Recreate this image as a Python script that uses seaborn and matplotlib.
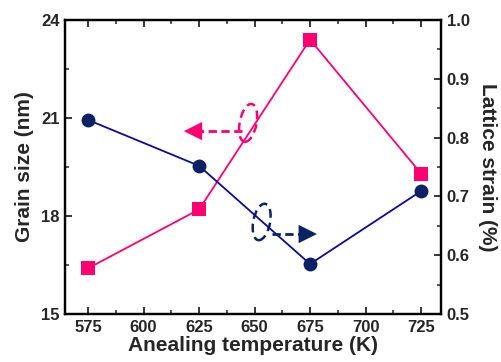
import matplotlib
matplotlib.use("Agg")
import matplotlib.pyplot as plt
from matplotlib.patches import Ellipse
from matplotlib.ticker import MultipleLocator, FormatStrFormatter
import seaborn as sns
import pandas as pd

# Annealing temperatures (K)
temperature = [575, 625, 675, 725]
# Grain size (nm), left axis
grain_size = [16.4, 18.2, 23.4, 19.3]
# Lattice strain (%), right axis
lattice_strain = [0.83, 0.752, 0.585, 0.709]

pink = "#FF0070"
navy_line = "#0A0AA0"
navy_mark = "#0C2264"

sns.set_style("ticks")
plt.rcParams["font.family"] = ["Liberation Sans", "DejaVu Sans"]
plt.rcParams["font.weight"] = "bold"
plt.rcParams["axes.labelweight"] = "bold"

df = pd.DataFrame({"T": temperature, "grain": grain_size, "strain": lattice_strain})

fig = plt.figure(figsize=(5.02, 3.62), dpi=100)
ax = fig.add_axes([0.1295, 0.1326, 0.749, 0.8122])
ax2 = ax.twinx()

sns.lineplot(data=df, x="T", y="grain", ax=ax, color=pink, marker="s",
             markersize=9.5, markeredgewidth=0, linewidth=1.3)
sns.lineplot(data=df, x="T", y="strain", ax=ax2, color=navy_line, marker="o",
             markersize=10, markerfacecolor=navy_mark, markeredgewidth=0,
             linewidth=1.3)

ax.set_xlim(564.6, 734)
ax.set_ylim(15, 24)
ax2.set_ylim(0.5, 1.0)

ax.xaxis.set_major_locator(MultipleLocator(25))
ax.xaxis.set_minor_locator(MultipleLocator(12.5))
ax.yaxis.set_major_locator(MultipleLocator(3))
ax.yaxis.set_minor_locator(MultipleLocator(1.5))
ax2.yaxis.set_major_locator(MultipleLocator(0.1))
ax2.yaxis.set_minor_locator(MultipleLocator(0.05))
ax2.yaxis.set_major_formatter(FormatStrFormatter("%.1f"))

ax.set_xlabel("Anealing temperature (K)", fontsize=15, fontweight="bold", labelpad=1)
ax.set_ylabel("Grain size (nm)", fontsize=15, fontweight="bold", labelpad=5)
ax2.set_ylabel("Lattice strain (%)", fontsize=15, fontweight="bold",
               rotation=270, labelpad=20)

for a in (ax, ax2):
    for s in a.spines.values():
        s.set_visible(True)
        s.set_linewidth(1.6)
        s.set_color("black")
ax.tick_params(axis="x", which="both", direction="in", top=True, bottom=True)
ax.tick_params(axis="y", which="both", direction="in", left=True, right=False)
ax2.tick_params(axis="y", which="both", direction="in", right=True, left=False)
for a in (ax, ax2):
    a.tick_params(which="major", length=5, width=1.3, labelsize=12, pad=4)
    a.tick_params(which="minor", length=3, width=1.1)
    for lab in a.get_xticklabels() + a.get_yticklabels():
        lab.set_fontweight("bold")

# Dashed ellipses marking which curve belongs to which axis
ax2.add_patch(Ellipse((0.487, 0.650), 0.045, 0.13, angle=-8, transform=ax2.transAxes,
                      fill=False, edgecolor=pink, linestyle=(0, (3.5, 2)), linewidth=1.8))
ax2.add_patch(Ellipse((0.523, 0.313), 0.045, 0.125, angle=-8, transform=ax2.transAxes,
                      fill=False, edgecolor=navy_mark, linestyle=(0, (3.5, 2)), linewidth=1.8))


def dashed_arrow(a, x0, x1, y, color):
    direction = 1 if x1 > x0 else -1
    a.plot([x0, x1 - direction * 0.02], [y, y], transform=a.transAxes, color=color,
           linestyle=(0, (3, 1.6)), linewidth=2, solid_capstyle="butt")
    a.annotate("", xy=(x1, y), xytext=(x1 - direction * 0.001, y),
               xycoords="axes fraction", textcoords="axes fraction",
               arrowprops=dict(arrowstyle="-|>,head_length=1.1,head_width=0.55",
                               color=color, lw=0, mutation_scale=12,
                               shrinkA=0, shrinkB=0))


dashed_arrow(ax2, 0.470, 0.316, 0.622, pink)
dashed_arrow(ax2, 0.551, 0.670, 0.272, navy_mark)

fig.savefig("out.png", dpi=100)
